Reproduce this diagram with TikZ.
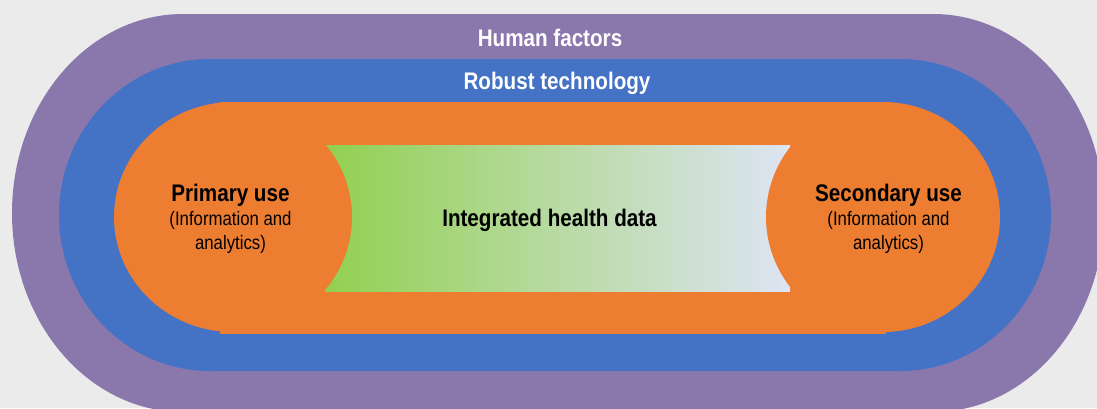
\documentclass[tikz,border=0pt]{standalone}
\usepackage{fontspec}
\setmainfont{Liberation Sans}[FakeStretch=0.86]
\definecolor{humanpurple}{HTML}{8A78AD}
\definecolor{techblue}{HTML}{4472C4}
\definecolor{useorange}{HTML}{ED7D31}
\definecolor{datagreen}{HTML}{92D050}
\definecolor{datalav}{HTML}{DEE4F4}
\definecolor{backgray}{HTML}{EBEBEB}
\newcommand{\usetitlefont}{\bfseries\fontsize{24}{24.3}\selectfont}
\tikzset{
	ringtitle/.style={text=white,inner sep=0pt,anchor=base,font=\bfseries\fontsize{24}{28}\selectfont},
	usetext/.style={inner sep=0pt,align=center,font=\fontsize{19.5}{24.3}\selectfont}
}
\begin{document}
\begin{tikzpicture}[x=1pt,y=-1pt]
			\useasboundingbox (0,0) rectangle (1097,408);
			\clip (0,0) rectangle (1097,408);
			\fill [backgray] (0,0) rectangle (1097,408);
			\fill [humanpurple] (183,14) rectangle (933,412);
			\fill [humanpurple] (183,213) ellipse [x radius=171, y radius=199];
			\fill [humanpurple] (933,213) ellipse [x radius=171, y radius=199];
			\fill [techblue] (210,59) rectangle (900,371);
			\fill [techblue] (210,215) ellipse [x radius=151, y radius=156];
			\fill [techblue] (900,215) ellipse [x radius=151, y radius=156];
			\fill [useorange] (220,102) rectangle (886,334);
			\shade [left color=datagreen, right color=datalav] (325,145) rectangle (790,291);
			\fill [useorange] (233,217) ellipse [x radius=119, y radius=115];
			\fill [useorange] (883,217) ellipse [x radius=117, y radius=115];
			\node [ringtitle] (human) at (550,46) {Human factors};
			\node [ringtitle] (robust) at (557,89.3) {Robust technology};
			\node [ringtitle, text=black] (data) at (549.5,226) {Integrated health data};
			\node [usetext] (primary) at (230.5,219) {{\usetitlefont Primary use}\\(Information and\\analytics)};
			\node [usetext] (secondary) at (888.5,219) {{\usetitlefont Secondary use}\\(Information and\\analytics)};
\end{tikzpicture}
\end{document}
